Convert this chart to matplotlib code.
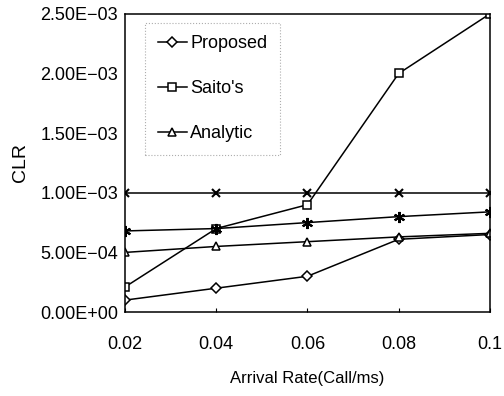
import matplotlib.pyplot as plt
from matplotlib.ticker import FuncFormatter

plt.rcParams["font.family"] = ["Liberation Sans", "DejaVu Sans"]

rate = [0.02, 0.04, 0.06, 0.08, 0.1]
proposed = [1.0e-4, 2.0e-4, 3.0e-4, 6.1e-4, 6.5e-4]
saito = [2.1e-4, 7.0e-4, 9.0e-4, 2.0e-3, 2.5e-3]
analytic = [5.0e-4, 5.5e-4, 5.9e-4, 6.3e-4, 6.6e-4]
star = [6.8e-4, 7.0e-4, 7.5e-4, 8.0e-4, 8.4e-4]
cross = [1.0e-3, 1.0e-3, 1.0e-3, 1.0e-3, 1.0e-3]

fig = plt.figure(figsize=(5.04, 3.96), dpi=100)
ax = fig.add_axes([0.248, 0.212, 0.724, 0.753])

kw = dict(color="black", lw=1.1, markerfacecolor="white", markeredgecolor="black", markeredgewidth=1.1)
ax.plot(rate, proposed, marker="D", ms=5, label="Proposed", **kw)
ax.plot(rate, saito, marker="s", ms=6, label="Saito's", **kw)
ax.plot(rate, analytic, marker="^", ms=6, label="Analytic", **kw)
ax.plot(rate, star, marker=(6, 2, 0), ms=8, color="black", lw=1.1, markeredgewidth=1.5)
ax.plot(rate, cross, marker="x", ms=6, color="black", lw=1.1, markeredgewidth=1.5)

ax.set_xlim(0.02, 0.1)
ax.set_ylim(0, 2.5e-3)
ax.set_xticks(rate)
ax.set_xticklabels(["0.02", "0.04", "0.06", "0.08", "0.1"])
ax.set_yticks([0, 5e-4, 1e-3, 1.5e-3, 2e-3, 2.5e-3])
ax.yaxis.set_major_formatter(FuncFormatter(lambda v, p: f"{v:.2E}".replace("-", "\u2212")))
ax.tick_params(axis="x", direction="in", length=3, pad=17, labelsize=13)
ax.tick_params(axis="y", length=0, pad=5, labelsize=13)
for s in ax.spines.values():
    s.set_linewidth(1.1)

ax.set_xlabel("Arrival Rate(Call/ms)", fontsize=12, labelpad=13)
ax.set_ylabel("CLR", fontsize=14, labelpad=8)

leg = ax.legend(loc="upper left", bbox_to_anchor=(0.055, 0.97), fontsize=13,
                labelspacing=1.55, handlelength=1.6, handletextpad=0.2,
                borderpad=0.7, borderaxespad=0, fancybox=False)
leg.get_frame().set_edgecolor("#999999")
leg.get_frame().set_linestyle(":")
leg.get_frame().set_linewidth(0.8)

plt.savefig("out.png", dpi=100)
